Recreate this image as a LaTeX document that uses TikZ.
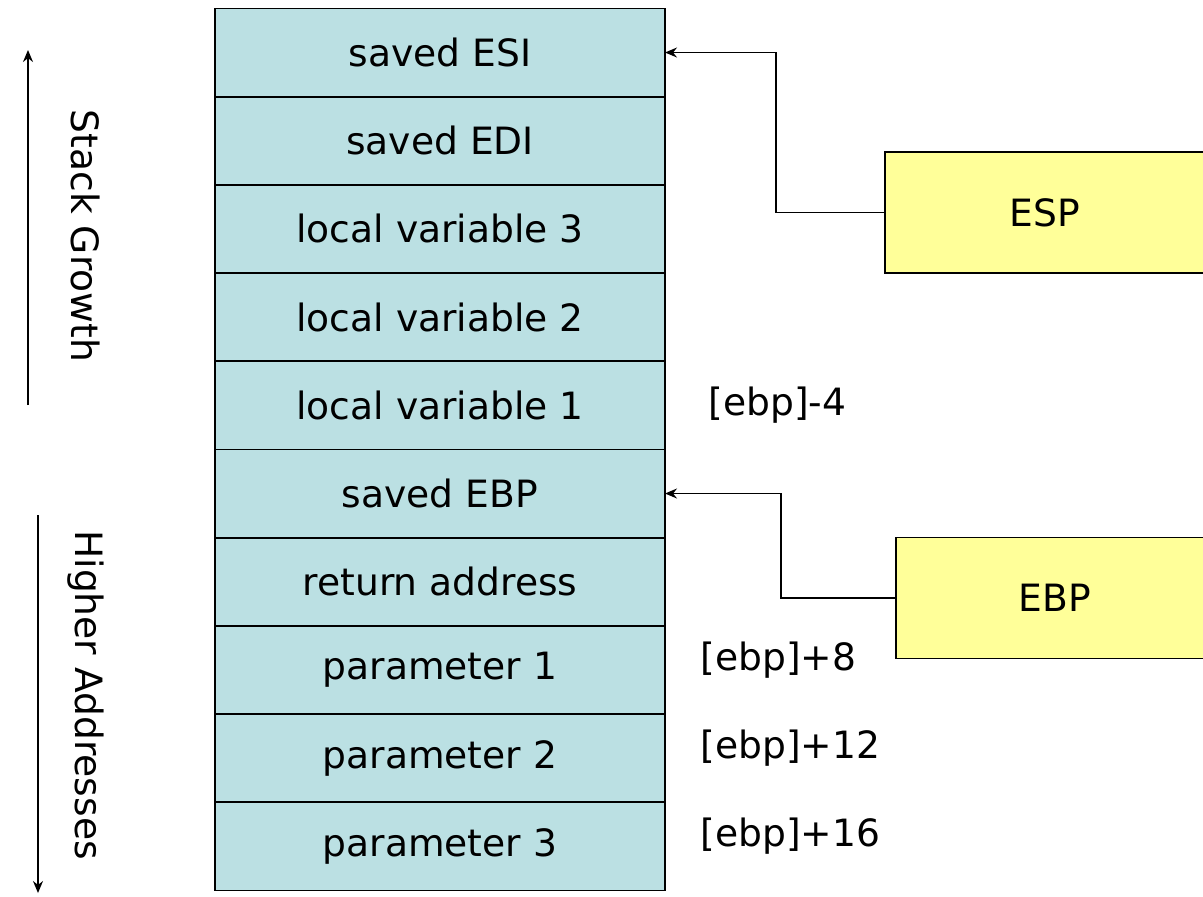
\documentclass[tikz,border=0pt]{standalone}
\usepackage{fontspec}
\setmainfont{DejaVu Sans}
\usetikzlibrary{positioning,arrows.meta}
\definecolor{cellcyan}{RGB}{187,224,227}
\definecolor{regyellow}{RGB}{255,255,153}
\tikzset{every picture/.style={line width=0.75pt}}
\tikzset{
  txt/.style={font=\fontsize{18.8}{22}\selectfont},
  cell/.style={draw,line width=0.9pt,fill=cellcyan,minimum width=225pt,minimum height=44.1pt,inner sep=0pt,outer sep=0pt,txt},
  reg/.style={draw,line width=0.9pt,fill=regyellow,minimum height=60.5pt,inner sep=0pt,outer sep=0pt,txt},
  offs/.style={anchor=west,inner sep=0pt,txt},
  side/.style={rotate=-90,inner sep=0pt,txt},
  link/.style={-{Stealth[length=6pt,width=5pt]},line width=0.7pt},
}
\begin{document}
\begin{tikzpicture}[x=0.5pt,y=-0.5pt]
  \clip (0,0) rectangle (1203,896);
  % stack frame
  \node[cell] (esi) at (440,52.5) {saved ESI};
  \node[cell,below=0pt of esi] (edi) {saved EDI};
  \node[cell,below=0pt of edi] (lv3) {local variable 3};
  \node[cell,below=0pt of lv3] (lv2) {local variable 2};
  \node[cell,below=0pt of lv2] (lv1) {local variable 1};
  \node[cell,below=0pt of lv1] (sebp) {saved EBP};
  \node[cell,below=0pt of sebp] (ret) {return address};
  \node[cell,below=0pt of ret] (par1) {parameter 1};
  \node[cell,below=0pt of par1] (par2) {parameter 2};
  \node[cell,below=0pt of par2] (par3) {parameter 3};
  % offsets
  \node[offs] (offm4) at (708,405) {[ebp]-4};
  \node[offs] (off8) at (700,660) {[ebp]+8};
  \node[offs] (off12) at (700,748) {[ebp]+12};
  \node[offs] (off16) at (700,836) {[ebp]+16};
  % registers
  \node[reg,minimum width=160pt] (esp) at (1045,212.5) {ESP};
  \node[reg,minimum width=159pt] (ebp) at (1055,598) {EBP};
  \draw[link] (esp.west) -- ++(-109,0) |- (esi.east);
  \draw[link] (ebp.west) -- ++(-115,0) |- (sebp.east);
  % growth arrows
  \coordinate (growlo) at (28,405);
  \coordinate (growhi) at (28,50);
  \coordinate (addrhi) at (38,515);
  \coordinate (addrlo) at (38,893);
  \draw[link] (growlo) -- (growhi);
  \draw[link] (addrhi) -- (addrlo);
  \node[side] (growth) at (86,236) {Stack Growth};
  \node[side] (higher) at (86,695) {Higher Addresses};
\end{tikzpicture}
\end{document}
